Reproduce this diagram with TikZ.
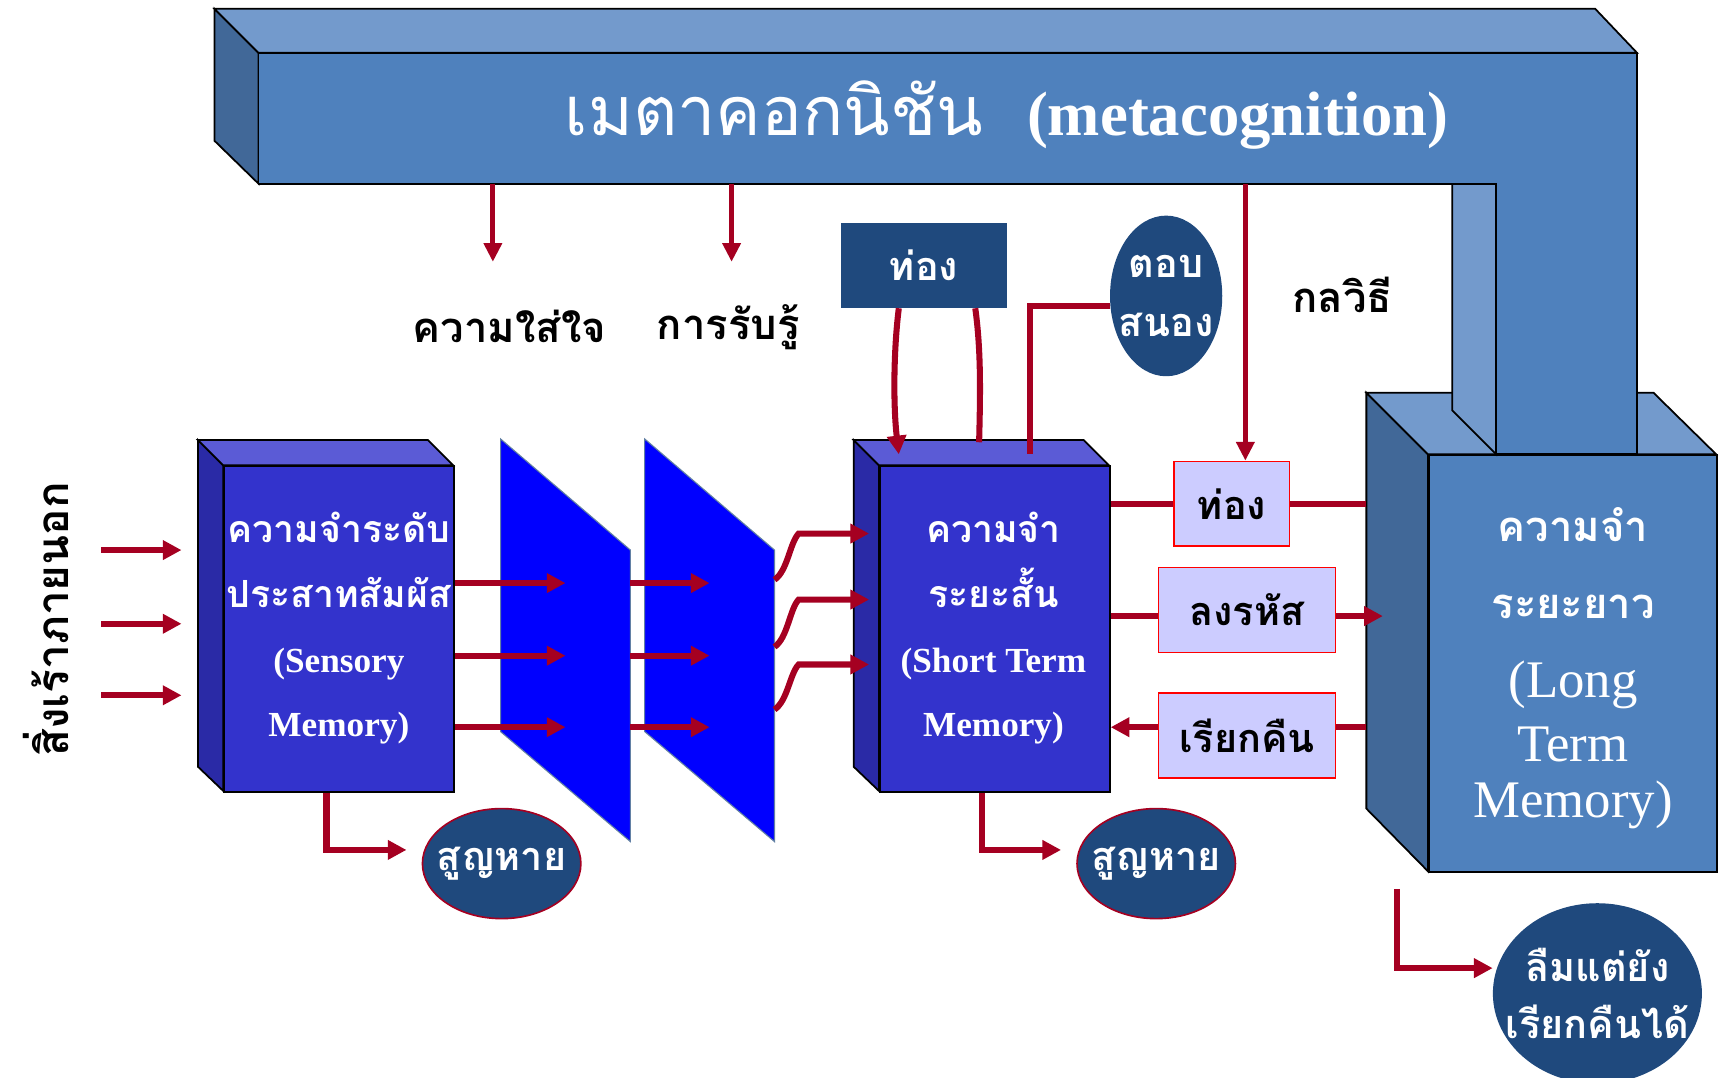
\documentclass[tikz,border=0pt]{standalone}
\usepackage{fontspec}
\setmainfont{Liberation Serif}
\newfontfamily\thai[Script=Thai]{Loma}
\usetikzlibrary{arrows.meta,shapes.geometric,calc}
\definecolor{arrred}{HTML}{A50021}
\definecolor{barfront}{HTML}{4F81BD}
\definecolor{bartop}{HTML}{739ACC}
\definecolor{barside}{HTML}{416898}
\definecolor{boxfront}{HTML}{3333CC}
\definecolor{boxtop}{HTML}{5B5BD6}
\definecolor{boxside}{HTML}{2A2AA6}
\definecolor{filt}{HTML}{0000FF}
\definecolor{darkb}{HTML}{1F497D}
\definecolor{lightb}{HTML}{CCCCFF}
\tikzset{
  arr/.style={draw=arrred, line width=5.5pt, -{Triangle[length=17pt,width=17pt]}},
  ln/.style={draw=arrred, line width=5.5pt},
  metaarr/.style={draw=arrred, line width=4.5pt, -{Triangle[length=17pt,width=16pt]}},
  edge3d/.style={draw=black, line width=1.6pt, line join=miter},
  frontbox/.style={edge3d, fill=boxfront, inner sep=0pt, anchor=north west},
  thlabel/.style={font=\thai\bfseries\fontsize{38}{44}\selectfont, text=black},
  lightbox/.style={draw=red, line width=1.5pt, fill=lightb, inner sep=0pt, minimum height=77pt,
     font=\thai\bfseries\fontsize{36}{42}\selectfont, text=black},
  darkell/.style={ellipse, fill=darkb, inner sep=0pt, text=white, font=\thai\bfseries\fontsize{36}{42}\selectfont},
  filter/.style={fill=filt, draw=darkb!70, line width=1pt},
}
\begin{document}
\begin{tikzpicture}[x=1pt,y=-1pt]
\useasboundingbox (0,0) rectangle (1568,979);
\fill[white] (0,0) rectangle (1568,979);

% ---------- Long term memory box ----------
\filldraw[edge3d, fill=barside] (1242,357) -- (1298,413) -- (1298,792) -- (1242,735) -- cycle;
\filldraw[edge3d, fill=bartop] (1242,357) -- (1503,357) -- (1560,413) -- (1298,413) -- cycle;
\node[edge3d, fill=barfront, inner sep=0pt, anchor=north west, minimum width=262pt, minimum height=379pt] (ltm) at (1298,413) {};
\node[text=white, align=center, font=\fontsize{48}{54}\selectfont] (ltmtext) at (1430,607)
  {{\thai\bfseries\fontsize{38}{44}\selectfont ความจำ}\\[16pt]
   {\thai\bfseries\fontsize{38}{44}\selectfont ระยะยาว}\\[18pt]
   (Long\\[4pt] Term\\[-3pt] Memory)};

% ---------- Metacognition bar ----------
\filldraw[edge3d, fill=bartop] (1320,167) -- (1360,167) -- (1360,413) -- (1320,373) -- cycle;
\filldraw[edge3d, fill=barside] (195,8) -- (235,48) -- (235,167) -- (195,128) -- cycle;
\filldraw[edge3d, fill=bartop] (195,8) -- (1450,8) -- (1488,48) -- (235,48) -- cycle;
\filldraw[edge3d, fill=barfront] (235,48) -- (1488,48) -- (1488,413) -- (1360,413) -- (1360,167) -- (235,167) -- cycle;
\node[text=white, inner sep=0pt] (meta) at (915,105)
  {{\thai\fontsize{62}{74}\selectfont เมตาคอกนิชัน}\hspace{40pt}{\bfseries\fontsize{57}{68}\selectfont (metacognition)}};

\coordinate (m1) at (448,167);
\coordinate (m2) at (665,167);
\coordinate (m3) at (1132,167);
\coordinate (a1) at (448,238);
\coordinate (a2) at (665,238);

\node[thlabel] (attn) at (463,297) {ความใส่ใจ};
\node[thlabel] (perc) at (662,297) {การรับรู้};
\node[thlabel] (strat) at (1220,268) {กลวิธี};

% ---------- Sensory memory box ----------
\filldraw[edge3d, fill=boxside] (180,400) -- (203,423) -- (203,719) -- (180,697) -- cycle;
\filldraw[edge3d, fill=boxtop] (180,400) -- (389,400) -- (412,423) -- (203,423) -- cycle;
\node[frontbox, minimum width=209pt, minimum height=296pt] (sm) at (203,423) {};
\node[text=white, align=center, font=\bfseries\fontsize{32}{38}\selectfont] (smtext) at (308,571)
  {{\thai\fontsize{34}{40}\selectfont ความจำระดับ}\\[21pt]
   {\thai\fontsize{34}{40}\selectfont ประสาทสัมผัส}\\[21pt]
   (Sensory\\[20pt] Memory)};

% ---------- Filters ----------
\path[filter] (455,399) -- (573,500) -- (573,765) -- (455,665) -- cycle;
\path[filter] (586,399) -- (704,500) -- (704,765) -- (586,665) -- cycle;

% ---------- Short term memory box ----------
\filldraw[edge3d, fill=boxside] (776,400) -- (799,423) -- (799,719) -- (776,697) -- cycle;
\filldraw[edge3d, fill=boxtop] (776,400) -- (985,400) -- (1008,423) -- (799,423) -- cycle;
\node[frontbox, minimum width=209pt, minimum height=296pt] (stm) at (799,423) {};
\node[text=white, align=center, font=\bfseries\fontsize{32}{38}\selectfont] (stmtext) at (903,571)
  {{\thai\fontsize{34}{40}\selectfont ความจำ}\\[21pt]
   {\thai\fontsize{34}{40}\selectfont ระยะสั้น}\\[21pt]
   (Short Term\\[20pt] Memory)};

% ---------- external stimuli ----------
\node[rotate=90, font=\thai\bfseries\fontsize{40}{46}\selectfont] (stim) at (42,563) {สิ่งเร้าภายนอก};
\foreach \y [count=\i] in {500,567,632} {
  \coordinate (in\i) at (92,\y);
  \coordinate (it\i) at (165,\y);
  \draw[arr] (in\i) -- (it\i);
}

% ---------- arrows through the filters ----------
\foreach \y [count=\i] in {530,596,661} {
  \coordinate (fa\i) at (514,\y);
  \coordinate (fb\i) at (573,\y);
  \coordinate (fc\i) at (645,\y);
  \draw[arr] (sm.east |- fa\i) -- (fa\i);
  \draw[arr] (fb\i) -- (fc\i);
}
\coordinate (g1) at (704,527); \coordinate (h1) at (790,485);
\coordinate (g2) at (704,588); \coordinate (h2) at (790,545);
\coordinate (g3) at (704,645); \coordinate (h3) at (790,604);
\foreach \i in {1,2,3} {
  \draw[arr] (g\i) .. controls ($(g\i)+(12,-8)$) and ($(h\i)+(-72,8)$) .. ($(h\i)+(-64,0)$) -- (h\i);
}

% ---------- loss ellipses ----------
\node[darkell, draw=arrred, line width=1.5pt, inner xsep=-9pt, minimum width=144pt, minimum height=100pt] (loss1) at (456,785) {สูญหาย};
\node[darkell, draw=arrred, line width=1.5pt, inner xsep=-9pt, minimum width=144pt, minimum height=100pt] (loss2) at (1051,785) {สูญหาย};
\draw[arr, shorten >=16pt] ([xshift=-11.5pt]sm.south) |- (loss1.170);
\draw[arr, shorten >=16pt] ([xshift=-11.5pt]stm.south) |- (loss2.170);

% ---------- rehearsal / response ----------
\node[fill=darkb, text=white, minimum width=151pt, minimum height=77pt, inner sep=0pt,
      font=\thai\bfseries\fontsize{36}{42}\selectfont] (tong) at (839.5,241.5) {ท่อง};
\node[darkell, inner xsep=-9pt, inner ysep=-4pt, minimum width=102pt, minimum height=146pt, align=center] (resp) at (1060,269) {ตอบ\\[12pt]สนอง};
\coordinate (s1) at (817,413);
\coordinate (s2) at (890,402);
\coordinate (s3) at (936,413);
\draw[arr] ([xshift=-22.5pt]tong.south) .. controls (812,320) and (812,370) .. (s1);
\draw[ln] ([xshift=47pt]tong.south) .. controls (892,320) and (891,360) .. (s2);
\draw[ln] (resp.190) -| (s3);

% ---------- light boxes ----------
\node[lightbox, minimum width=105pt] (tong2) at (1119.5,458) {ท่อง};
\node[lightbox, minimum width=161pt] (enc) at (1133.5,554.5) {ลงรหัส};
\node[lightbox, minimum width=161pt] (ret) at (1133.5,668.5) {เรียกคืน};
\coordinate (y560) at (0,560);
\coordinate (y661) at (0,661);
\coordinate (l1) at (1242,458);
\coordinate (l2) at (1257,560);
\coordinate (l3) at (1242,661);
\draw[ln] (stm.east |- tong2) -- (tong2.west);
\draw[ln] (tong2.east) -- (l1);
\draw[ln] (stm.east |- y560) -- (enc.west |- y560);
\draw[arr] (enc.east |- y560) -- (l2);
\draw[ln] (l3) -- (ret.east |- y661);
\draw[arr] (ret.west |- y661) -- (stm.east |- y661);

% ---------- metacognition arrows ----------
\draw[metaarr] (m1) -- (a1);
\draw[metaarr] (m2) -- (a2);
\draw[metaarr] (m3) -- (m3 |- tong2.north);

% ---------- forgotten but retrievable ----------
\node[darkell, inner xsep=-22pt, inner ysep=-12pt, minimum width=190pt, minimum height=164pt, align=center] (forget) at (1452,903) {ลืมแต่ยัง\\[10pt]เรียกคืนได้};
\coordinate (c0) at (1270,808);
\coordinate (y880) at (0,880);
\draw[arr] (c0) |- (forget.west |- y880);
\end{tikzpicture}
\end{document}
